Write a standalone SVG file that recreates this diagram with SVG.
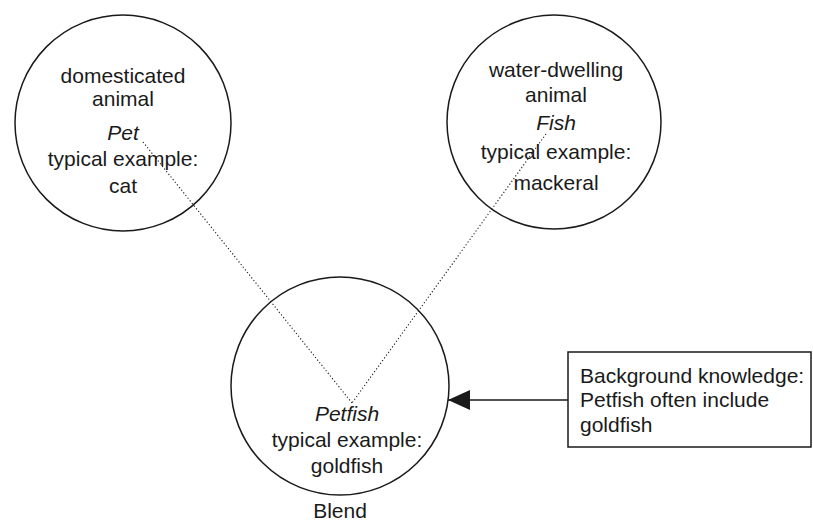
<svg xmlns="http://www.w3.org/2000/svg" width="813" height="521" viewBox="0 0 813 521">
  <defs>
    <style>
      .node { fill: none; stroke: #1a1a1a; stroke-width: 1.5; }
      .label { font-family: "Liberation Sans", Arial, sans-serif; font-size: 21px; fill: #1a1a1a; text-anchor: middle; }
      .name { font-style: italic; }
      .left { text-anchor: start; }
      .map { fill: none; stroke: #1a1a1a; stroke-width: 1.1; stroke-dasharray: 1.2 2.2; }
      .feed { fill: none; stroke: #1a1a1a; stroke-width: 1.6; }
    </style>
    <marker id="head" viewBox="0 0 22 20" refX="22" refY="10" markerWidth="22" markerHeight="20" markerUnits="userSpaceOnUse" orient="auto">
      <path d="M0,0 L22,10 L0,20 Z" fill="#1a1a1a"/>
    </marker>
  </defs>
  <rect width="813" height="521" fill="#ffffff"/>

  <g id="connectors">
    <line class="map" x1="143" y1="142" x2="352" y2="403"/>
    <line class="map" x1="546" y1="134" x2="352" y2="403"/>
    <line class="feed" x1="568" y1="400" x2="448" y2="400" marker-end="url(#head)"/>
  </g>

  <g id="pet">
    <circle class="node" cx="123" cy="123" r="108"/>
    <text class="label" x="123" y="83">domesticated</text>
    <text class="label" x="123" y="106">animal</text>
    <text class="label name" x="123" y="140">Pet</text>
    <text class="label" x="123" y="166">typical example:</text>
    <text class="label" x="123" y="193">cat</text>
  </g>

  <g id="fish">
    <circle class="node" cx="554" cy="122" r="107"/>
    <text class="label" x="556" y="77">water-dwelling</text>
    <text class="label" x="556" y="102">animal</text>
    <text class="label name" x="556" y="130">Fish</text>
    <text class="label" x="556" y="159">typical example:</text>
    <text class="label" x="556" y="190">mackeral</text>
  </g>

  <g id="petfish">
    <circle class="node" cx="340" cy="386" r="109"/>
    <text class="label name" x="347" y="421">Petfish</text>
    <text class="label" x="347" y="447">typical example:</text>
    <text class="label" x="347" y="473">goldfish</text>
    <text class="label" x="340" y="518">Blend</text>
  </g>

  <g id="background">
    <rect class="node" x="568" y="352" width="243" height="95"/>
    <text class="label left" x="580" y="383">Background knowledge:</text>
    <text class="label left" x="580" y="407">Petfish often include</text>
    <text class="label left" x="580" y="432">goldfish</text>
  </g>
</svg>
